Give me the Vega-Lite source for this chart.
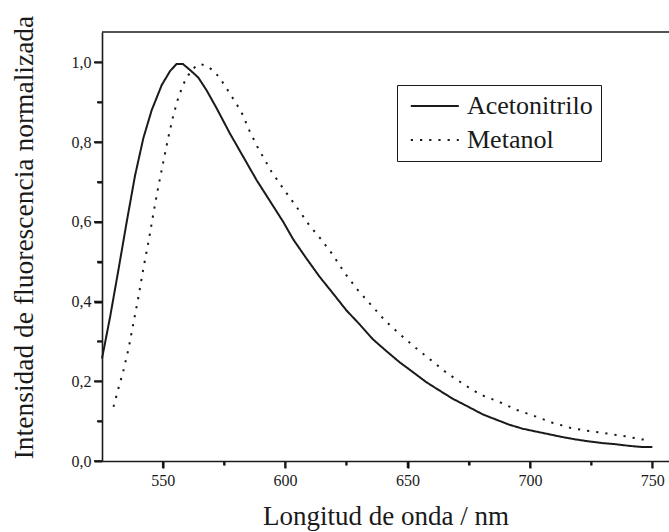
{
  "$schema": "https://vega.github.io/schema/vega-lite/v6.json",
  "width": 567,
  "height": 429,
  "autosize": {"type": "none"},
  "padding": {"left": 102, "top": 32, "right": 0, "bottom": 71},
  "background": "white",
  "config": {"view": {"stroke": null}, "font": "Liberation Serif"},
  "datasets": {
    "xmajor": [{"nm": 550}, {"nm": 600}, {"nm": 650}, {"nm": 700}, {"nm": 750}],
    "xminor": [{"nm": 575}, {"nm": 625}, {"nm": 675}, {"nm": 725}],
    "ymajor": [{"v": 0}, {"v": 0.2}, {"v": 0.4}, {"v": 0.6}, {"v": 0.8}, {"v": 1.0}],
    "yminor": [{"v": 0.1}, {"v": 0.3}, {"v": 0.5}, {"v": 0.7}, {"v": 0.9}]
  },
  "data": {"values": [
    {"serie": "Acetonitrilo", "nm": 525.2, "v": 0.257},
    {"serie": "Acetonitrilo", "nm": 528.5, "v": 0.361},
    {"serie": "Acetonitrilo", "nm": 531.9, "v": 0.479},
    {"serie": "Acetonitrilo", "nm": 535.3, "v": 0.600},
    {"serie": "Acetonitrilo", "nm": 538.7, "v": 0.716},
    {"serie": "Acetonitrilo", "nm": 542.1, "v": 0.810},
    {"serie": "Acetonitrilo", "nm": 545.5, "v": 0.880},
    {"serie": "Acetonitrilo", "nm": 549.6, "v": 0.943},
    {"serie": "Acetonitrilo", "nm": 553.0, "v": 0.978},
    {"serie": "Acetonitrilo", "nm": 555.7, "v": 0.996},
    {"serie": "Acetonitrilo", "nm": 558.2, "v": 0.996},
    {"serie": "Acetonitrilo", "nm": 561.1, "v": 0.981},
    {"serie": "Acetonitrilo", "nm": 564.5, "v": 0.962},
    {"serie": "Acetonitrilo", "nm": 567.9, "v": 0.930},
    {"serie": "Acetonitrilo", "nm": 572.0, "v": 0.885},
    {"serie": "Acetonitrilo", "nm": 577.4, "v": 0.822},
    {"serie": "Acetonitrilo", "nm": 582.9, "v": 0.763},
    {"serie": "Acetonitrilo", "nm": 588.3, "v": 0.705},
    {"serie": "Acetonitrilo", "nm": 593.8, "v": 0.652},
    {"serie": "Acetonitrilo", "nm": 599.2, "v": 0.600},
    {"serie": "Acetonitrilo", "nm": 603.3, "v": 0.556},
    {"serie": "Acetonitrilo", "nm": 608.7, "v": 0.508},
    {"serie": "Acetonitrilo", "nm": 614.1, "v": 0.462},
    {"serie": "Acetonitrilo", "nm": 619.6, "v": 0.420},
    {"serie": "Acetonitrilo", "nm": 625.0, "v": 0.378},
    {"serie": "Acetonitrilo", "nm": 630.4, "v": 0.343},
    {"serie": "Acetonitrilo", "nm": 635.9, "v": 0.305},
    {"serie": "Acetonitrilo", "nm": 641.3, "v": 0.276},
    {"serie": "Acetonitrilo", "nm": 646.7, "v": 0.248},
    {"serie": "Acetonitrilo", "nm": 652.2, "v": 0.223},
    {"serie": "Acetonitrilo", "nm": 657.6, "v": 0.198},
    {"serie": "Acetonitrilo", "nm": 663.0, "v": 0.177},
    {"serie": "Acetonitrilo", "nm": 668.5, "v": 0.156},
    {"serie": "Acetonitrilo", "nm": 673.9, "v": 0.139},
    {"serie": "Acetonitrilo", "nm": 680.7, "v": 0.117},
    {"serie": "Acetonitrilo", "nm": 686.1, "v": 0.104},
    {"serie": "Acetonitrilo", "nm": 691.6, "v": 0.091},
    {"serie": "Acetonitrilo", "nm": 697.0, "v": 0.081},
    {"serie": "Acetonitrilo", "nm": 702.4, "v": 0.074},
    {"serie": "Acetonitrilo", "nm": 707.9, "v": 0.067},
    {"serie": "Acetonitrilo", "nm": 713.3, "v": 0.060},
    {"serie": "Acetonitrilo", "nm": 718.8, "v": 0.054},
    {"serie": "Acetonitrilo", "nm": 724.2, "v": 0.049},
    {"serie": "Acetonitrilo", "nm": 729.6, "v": 0.045},
    {"serie": "Acetonitrilo", "nm": 735.1, "v": 0.042},
    {"serie": "Acetonitrilo", "nm": 740.5, "v": 0.038},
    {"serie": "Acetonitrilo", "nm": 745.9, "v": 0.035},
    {"serie": "Acetonitrilo", "nm": 750.0, "v": 0.035},
    {"serie": "Metanol", "nm": 529.9, "v": 0.136},
    {"serie": "Metanol", "nm": 531.9, "v": 0.182},
    {"serie": "Metanol", "nm": 534.0, "v": 0.228},
    {"serie": "Metanol", "nm": 536.0, "v": 0.280},
    {"serie": "Metanol", "nm": 538.0, "v": 0.345},
    {"serie": "Metanol", "nm": 540.1, "v": 0.412},
    {"serie": "Metanol", "nm": 542.1, "v": 0.483},
    {"serie": "Metanol", "nm": 544.2, "v": 0.550},
    {"serie": "Metanol", "nm": 546.2, "v": 0.621},
    {"serie": "Metanol", "nm": 548.2, "v": 0.688},
    {"serie": "Metanol", "nm": 550.3, "v": 0.752},
    {"serie": "Metanol", "nm": 552.3, "v": 0.812},
    {"serie": "Metanol", "nm": 554.3, "v": 0.866},
    {"serie": "Metanol", "nm": 556.4, "v": 0.912},
    {"serie": "Metanol", "nm": 558.4, "v": 0.945},
    {"serie": "Metanol", "nm": 560.5, "v": 0.968},
    {"serie": "Metanol", "nm": 562.5, "v": 0.985},
    {"serie": "Metanol", "nm": 565.2, "v": 0.996},
    {"serie": "Metanol", "nm": 567.9, "v": 0.991},
    {"serie": "Metanol", "nm": 570.7, "v": 0.979},
    {"serie": "Metanol", "nm": 573.4, "v": 0.960},
    {"serie": "Metanol", "nm": 577.4, "v": 0.922},
    {"serie": "Metanol", "nm": 580.2, "v": 0.895},
    {"serie": "Metanol", "nm": 582.9, "v": 0.866},
    {"serie": "Metanol", "nm": 584.9, "v": 0.835},
    {"serie": "Metanol", "nm": 587.0, "v": 0.809},
    {"serie": "Metanol", "nm": 589.0, "v": 0.784},
    {"serie": "Metanol", "nm": 591.0, "v": 0.763},
    {"serie": "Metanol", "nm": 594.4, "v": 0.726},
    {"serie": "Metanol", "nm": 599.5, "v": 0.681},
    {"serie": "Metanol", "nm": 604.6, "v": 0.638},
    {"serie": "Metanol", "nm": 609.8, "v": 0.592},
    {"serie": "Metanol", "nm": 614.7, "v": 0.556},
    {"serie": "Metanol", "nm": 619.6, "v": 0.516},
    {"serie": "Metanol", "nm": 624.3, "v": 0.472},
    {"serie": "Metanol", "nm": 629.8, "v": 0.428},
    {"serie": "Metanol", "nm": 635.6, "v": 0.388},
    {"serie": "Metanol", "nm": 641.0, "v": 0.351},
    {"serie": "Metanol", "nm": 647.4, "v": 0.315},
    {"serie": "Metanol", "nm": 653.3, "v": 0.284},
    {"serie": "Metanol", "nm": 659.6, "v": 0.253},
    {"serie": "Metanol", "nm": 666.2, "v": 0.220},
    {"serie": "Metanol", "nm": 669.6, "v": 0.206},
    {"serie": "Metanol", "nm": 676.1, "v": 0.180},
    {"serie": "Metanol", "nm": 680.0, "v": 0.166},
    {"serie": "Metanol", "nm": 687.5, "v": 0.148},
    {"serie": "Metanol", "nm": 694.7, "v": 0.128},
    {"serie": "Metanol", "nm": 702.2, "v": 0.112},
    {"serie": "Metanol", "nm": 709.2, "v": 0.096},
    {"serie": "Metanol", "nm": 716.7, "v": 0.083},
    {"serie": "Metanol", "nm": 724.2, "v": 0.075},
    {"serie": "Metanol", "nm": 731.4, "v": 0.069},
    {"serie": "Metanol", "nm": 738.9, "v": 0.062},
    {"serie": "Metanol", "nm": 745.9, "v": 0.054},
    {"serie": "Metanol", "nm": 749.3, "v": 0.052}
  ]},
  "layer": [
    {
      "mark": {"type": "line", "strokeWidth": 2, "color": "#1a1a1a", "strokeCap": "butt"},
      "encoding": {
        "x": {
          "field": "nm", "type": "quantitative",
          "scale": {"domain": [525.2, 756.8], "nice": false, "zero": false},
          "axis": {
            "values": [550, 575, 600, 625, 650, 675, 700, 725, 750],
            "labelExpr": "datum.value % 50 === 0 ? datum.label : ''",
            "tickSize": 7, "tickColor": "black", "tickWidth": 2,
            "tickDash": {"condition": {"test": "datum.value % 50 === 0", "value": [7, 0]}, "value": [4, 10]},
            "grid": false,
            "domainColor": "#1a1a1a", "domainWidth": 1.6,
            "labelFont": "Liberation Serif", "labelFontSize": 16, "labelColor": "#1a1a1a",
            "labelPadding": 4, "labelOverlap": false,
            "title": "Longitud de onda / nm",
            "titleFont": "Liberation Serif", "titleFontSize": 27, "titleFontWeight": "normal",
            "titleColor": "#1a1a1a", "titlePadding": 15
          }
        },
        "y": {
          "field": "v", "type": "quantitative",
          "scale": {"domain": [0, 1.076], "nice": false, "zero": false},
          "axis": {
            "values": [0, 0.1, 0.2, 0.3, 0.4, 0.5, 0.6, 0.7, 0.8, 0.9, 1.0],
            "labelExpr": "round(datum.value*10) % 2 === 0 ? replace(format(datum.value, '.1f'), '.', ',') : ''",
            "tickSize": 8, "tickColor": "black", "tickWidth": 2,
            "tickDash": {"condition": {"test": "round(datum.value*10) % 2 === 0", "value": [8, 0]}, "value": [5, 10]},
            "grid": false,
            "domainColor": "#1a1a1a", "domainWidth": 1.6,
            "labelFont": "Liberation Serif", "labelFontSize": 16, "labelColor": "#1a1a1a",
            "labelPadding": 3, "labelOverlap": false,
            "title": "Intensidad de fluorescencia normalizada",
            "titleFont": "Liberation Serif", "titleFontSize": 27.5, "titleFontWeight": "normal",
            "titleColor": "#1a1a1a", "titlePadding": 33, "titleY": 205
          }
        },
        "strokeDash": {
          "field": "serie", "type": "nominal",
          "scale": {"domain": ["Acetonitrilo", "Metanol"], "range": [[1, 0], [2.2, 7]]},
          "legend": {
            "orient": "none", "legendX": 295, "legendY": 53,
            "title": null,
            "strokeColor": "#1a1a1a",
            "padding": 8,
            "symbolType": "M-0.6,0H3.4",
            "symbolSize": 576,
            "symbolStrokeWidth": 2,
            "symbolStrokeColor": "#1a1a1a",
            "labelFont": "Liberation Serif", "labelFontSize": 26, "labelColor": "#1a1a1a",
            "labelOffset": 36, "rowPadding": 8
          }
        }
      }
    },
    {
      "data": {"name": "xmajor"},
      "mark": {"type": "rule", "color": "#1a1a1a", "strokeWidth": 1.6},
      "encoding": {
        "x": {"field": "nm", "type": "quantitative"},
        "y": {"datum": 0},
        "y2": {"datum": -0.0176}
      }
    },
    {
      "data": {"name": "xminor"},
      "mark": {"type": "rule", "color": "#1a1a1a", "strokeWidth": 1.6},
      "encoding": {
        "x": {"field": "nm", "type": "quantitative"},
        "y": {"datum": 0},
        "y2": {"datum": -0.0105}
      }
    },
    {
      "data": {"name": "ymajor"},
      "mark": {"type": "rule", "color": "#1a1a1a", "strokeWidth": 1.6},
      "encoding": {
        "y": {"field": "v", "type": "quantitative"},
        "x": {"datum": 525.2},
        "x2": {"datum": 521.93}
      }
    },
    {
      "data": {"name": "yminor"},
      "mark": {"type": "rule", "color": "#1a1a1a", "strokeWidth": 1.6},
      "encoding": {
        "y": {"field": "v", "type": "quantitative"},
        "x": {"datum": 525.2},
        "x2": {"datum": 523.16}
      }
    },
    {
      "data": {"values": [{}]},
      "mark": {"type": "rule", "color": "#1a1a1a", "strokeWidth": 1.6},
      "encoding": {"y": {"datum": 1.076}}
    }
  ]
}
